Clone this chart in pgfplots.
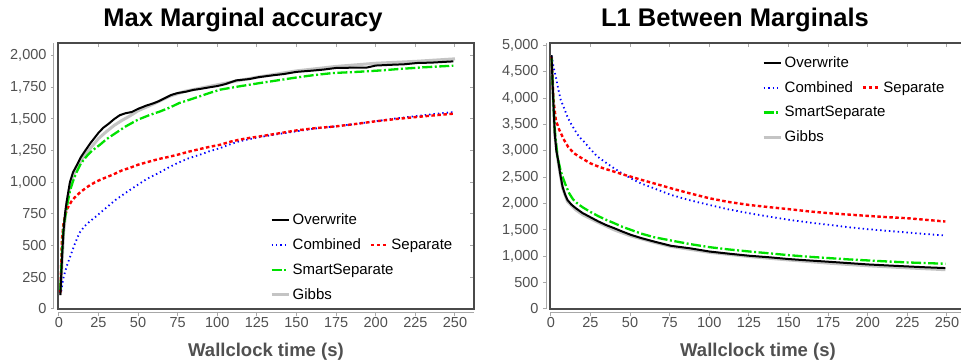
\documentclass[border=0pt]{standalone}
\usepackage{pgfplots}
\pgfplotsset{compat=1.18}
\usepackage{fontspec}
\setmainfont{Liberation Sans}
\definecolor{framegray}{HTML}{4A4A4A}
\definecolor{axgray}{HTML}{A8A8A8}
\definecolor{labgray}{HTML}{505050}
\definecolor{mygreen}{RGB}{0,225,0}
\definecolor{gibbsgray}{HTML}{C4C4C4}
\pgfplotsset{
  mystyle/.style={
    scale only axis, width=416pt, height=266pt,
    axis line style={draw=framegray, line width=1.4pt},
    tick align=outside, major tick length=3pt,
    xtick style={draw=axgray, line width=1pt, yshift=-4pt},
    ytick style={draw=axgray, line width=1pt, xshift=-4pt},
    ticklabel style={font=\fontsize{14.5}{16}\selectfont, text=labgray},
    yticklabel style={xshift=-5pt},
    xticklabel style={yshift=-2pt},
    /pgf/number format/assume math mode=true,
    /pgf/number format/1000 sep={,},
    scaled y ticks=false,
    xmin=-0.5, xmax=262, xtick={0,25,...,250},
    xlabel={Wallclock time (s)},
    xlabel style={at={(rel axis cs:0.5,0)}, anchor=base, yshift=-48pt, font=\fontsize{18.5}{20}\selectfont\bfseries, text=labgray},
    legend image code/.code={\draw[#1] (0pt,0pt) -- (17pt,0pt);},
    legend columns=2,
    legend cell align=left,
    legend style={draw=none, fill=none, anchor=north west, inner sep=0pt,
      font=\fontsize{15}{17}\selectfont, row sep=12.6pt,
      nodes={inner sep=0pt, inner xsep=2.5pt},
      /tikz/every even column/.append style={column sep=6pt}},
    after end axis/.code={
      \draw[axgray, line width=1pt] ([yshift=-4pt]rel axis cs:0,0) -- ([yshift=-4pt]rel axis cs:1,0);
      \draw[axgray, line width=1pt] ([xshift=-4pt]rel axis cs:0,0) -- ([xshift=-4pt]rel axis cs:0,1);
    },
  },
  ow/.style={black, line width=2pt},
  cb/.style={blue, line width=1.8pt, dash pattern=on 1.4pt off 3pt},
  sp/.style={red, line width=2.4pt, dash pattern=on 3.5pt off 2.5pt},
  ss/.style={mygreen, line width=2.3pt, dash pattern=on 10pt off 2.5pt on 2pt off 2.5pt},
  gb/.style={gibbsgray, line width=3pt},
}
\begin{document}
\begin{tikzpicture}
\path[use as bounding box] (0,0) rectangle (961pt,364pt);
\node[anchor=base, font=\fontsize{25.5}{28}\selectfont\bfseries] at (243pt,337pt) {Max Marginal accuracy};
\node[anchor=base, font=\fontsize{25.5}{28}\selectfont\bfseries] at (735pt,337pt) {L1 Between Marginals};
\begin{axis}[mystyle, at={(58pt,55pt)}, anchor=south west,
  ymin=0, ymax=2100, ytick={0,250,...,2000},
  legend style={at={(rel axis cs:0.5096,0.358)}}]
\addplot[gb, forget plot] coordinates {(1,110) (3,600) (5,830) (7,970) (10,1080) (14,1170) (18,1240) (25,1345) (30,1400) (35,1450) (40,1490) (45,1525) (50,1565) (60,1620) (70,1680) (80,1720) (90,1745) (100,1770) (112,1800) (125,1830) (150,1880) (175,1915) (200,1940) (225,1955) (250,1975)};
\addplot[cb, forget plot] coordinates {(1.5,140) (3,250) (5,337) (8,442) (10,510) (13,600) (16,650) (19.6,692) (23,725) (26,758) (30,800) (36,863) (42,915) (50,982) (56,1030) (63,1074) (69,1115) (75,1153) (82,1190) (89,1218) (95,1245) (102,1271) (108,1300) (114,1324) (120,1340) (127,1358) (138,1380) (150,1403) (162,1425) (175,1442) (188,1462) (200,1482) (208,1497) (215,1508) (230,1530) (249,1555)};
\addplot[sp, forget plot] coordinates {(1,130) (2,550) (3,680) (5,784) (8,850) (10,880) (13,916) (17,955) (20,980) (24,1008) (29,1035) (34,1060) (40,1095) (45,1115) (50,1139) (56,1160) (63,1184) (69,1200) (75,1218) (82,1242) (89,1263) (95,1280) (102,1297) (108,1320) (114,1337) (120,1350) (127,1363) (138,1385) (150,1410) (162,1428) (175,1442) (188,1462) (200,1482) (213,1500) (226,1516) (238,1530) (249,1542)};
\addplot[ss, forget plot] coordinates {(1,150) (2,450) (3,650) (5,800) (7,930) (9,1010) (11,1074) (14,1150) (17.5,1205) (21,1250) (26,1297) (30,1340) (36,1390) (42,1440) (50,1495) (57,1530) (64,1560) (70,1590) (76,1626) (82,1650) (89,1679) (95,1705) (102,1732) (108,1745) (114,1758) (120,1770) (127,1784) (138,1805) (148,1824) (160,1845) (173,1863) (185,1870) (194,1876) (205,1885) (215,1895) (230,1908) (249,1921)};
\addplot[ow, forget plot] coordinates {(1,110) (2,400) (3,620) (4,760) (5,850) (7,1000) (9,1080) (12,1150) (14,1200) (16.4,1245) (20,1310) (25,1390) (28,1430) (32,1468) (35,1500) (38.5,1530) (42,1545) (46,1555) (50,1580) (55,1605) (60,1625) (63,1640) (67,1665) (71,1690) (75,1705) (80,1715) (85,1730) (89,1737) (95,1750) (100,1760) (105,1775) (112,1805) (120,1815) (126,1830) (135,1845) (142,1855) (150,1872) (160,1882) (167,1890) (175,1903) (185,1905) (194,1905) (200,1922) (210,1928) (218,1932) (226,1942) (235,1945) (242,1950) (249,1955)};
\addlegendimage{ow}\addlegendentry{Overwrite}
\addlegendimage{empty legend}\addlegendentry{}
\addlegendimage{cb}\addlegendentry{Combined}
\addlegendimage{sp}\addlegendentry{Separate}
\addlegendimage{ss}\addlegendentry{\rlap{SmartSeparate}}
\addlegendimage{empty legend}\addlegendentry{}
\addlegendimage{gb}\addlegendentry{Gibbs}
\end{axis}
\begin{axis}[mystyle, at={(550pt,55pt)}, anchor=south west,
  ymin=0, ymax=5043, ytick={0,500,...,5000},
  legend style={at={(rel axis cs:0.5096,0.95)}}]
\addplot[gb, forget plot] coordinates {(0.4,4811) (1,4350) (2.5,3300) (4.6,2800) (7.4,2300) (10.5,2040) (15.8,1880) (20,1790) (25,1715) (30,1640) (40,1500) (50,1390) (65,1265) (75,1190) (100,1075) (125,995) (150,930) (175,870) (200,820) (225,780) (249,745)};
\addplot[cb, forget plot] coordinates {(0.5,4800) (1,4716) (2,4550) (3.2,4401) (4.5,4200) (6.3,3960) (8.5,3800) (10.5,3644) (13,3500) (15.8,3361) (18,3260) (21,3171) (25,3030) (29.5,2888) (35,2770) (40,2667) (45,2570) (50.5,2478) (57,2380) (65,2289) (75.8,2163) (88,2060) (100,1973) (112,1890) (125,1816) (138,1750) (150.5,1690) (163,1640) (175.7,1595) (188,1550) (200,1513) (213,1480) (225,1450) (237,1420) (249,1393)};
\addplot[sp, forget plot] coordinates {(0.4,4780) (1,4400) (1.7,3960) (3.2,3581) (5.3,3400) (8.4,3203) (11,3070) (14.7,2951) (20,2850) (25,2762) (30,2700) (35,2650) (40,2604) (45,2555) (50.5,2509) (57,2450) (65,2383) (75.8,2289) (88,2190) (100,2100) (112,2030) (125,1973) (138,1930) (150.5,1892) (163,1850) (175.7,1816) (188,1790) (200,1765) (213,1740) (225,1721) (237,1690) (249,1658)};
\addplot[ss, forget plot] coordinates {(0.5,4750) (1.5,4000) (2.5,3400) (4.2,2888) (6,2650) (7.4,2510) (9.5,2340) (11.6,2194) (14,2080) (16.8,2000) (20,1930) (25,1840) (30,1760) (35,1690) (40,1627) (45,1560) (50.5,1501) (57,1430) (65,1362) (75.8,1299) (88,1230) (100,1173) (112,1130) (125,1091) (138,1055) (150,1021) (163,990) (175.7,965) (188,940) (200,921) (213,900) (225,883) (237,870) (249,858)};
\addplot[ow, forget plot] coordinates {(0.4,4811) (1,4400) (1.5,4000) (2.5,3329) (3.5,3000) (4.6,2825) (6,2550) (7.4,2320) (9,2170) (10.5,2068) (13,1980) (15.8,1910) (20,1820) (25,1740) (30,1660) (35,1590) (40,1532) (45,1470) (50.5,1406) (57,1345) (65,1280) (75.8,1198) (88,1150) (100,1090) (112,1050) (125,1010) (138,980) (150.5,946) (163,920) (175.7,895) (188,870) (200,845) (213,825) (225,807) (237,790) (249,776)};
\addlegendimage{ow}\addlegendentry{Overwrite}
\addlegendimage{empty legend}\addlegendentry{}
\addlegendimage{cb}\addlegendentry{Combined}
\addlegendimage{sp}\addlegendentry{Separate}
\addlegendimage{ss}\addlegendentry{\rlap{SmartSeparate}}
\addlegendimage{empty legend}\addlegendentry{}
\addlegendimage{gb}\addlegendentry{Gibbs}
\end{axis}
\end{tikzpicture}
\end{document}
